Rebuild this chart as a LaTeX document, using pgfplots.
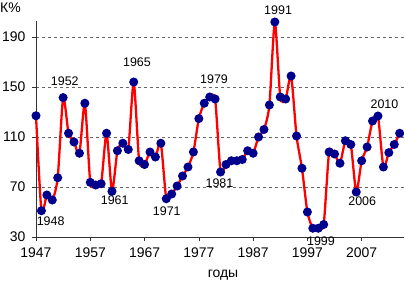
\documentclass[border=0pt]{standalone}
\usepackage{fontspec}
\setmainfont{Liberation Sans}
\usepackage{pgfplots}
\pgfplotsset{compat=1.18}
\definecolor{navy}{RGB}{0,0,140}
\begin{document}
\begin{tikzpicture}
\useasboundingbox (-36bp,-44bp) rectangle (368bp,237bp);
\begin{axis}[
  at={(0,0)}, anchor=south west,
  scale only axis, width=368bp, height=216bp,
  xmin=1947, xmax=2014.8, ymin=30, ymax=202.8,
  axis lines*=left, axis line style={-, black!80, line width=0.6bp},
  xtick={1947,1957,...,2007}, ytick={30,70,...,190},
  ymajorgrids, grid style={dashed, black!60, line width=0.5bp},
  tick align=outside, major tick length=4bp,
  tick style={black!80, line width=0.6bp},
  /pgf/number format/set thousands separator={},
  /pgf/number format/assume math mode=true,
  tick label style={font=\fontsize{14}{16}\selectfont},
  xticklabel style={yshift=-3bp},
  yticklabel style={xshift=-3bp},
  clip=false,
]
\addplot[red, line width=2.3bp, smooth, tension=0.4, mark=*, mark size=3.3bp,
  mark options={fill=navy, draw=navy, solid}] coordinates {
(1947,127) (1948,51) (1949,63.6) (1950,59.6) (1951,77.4) (1952,141.5)
(1953,113) (1954,106) (1955,97) (1956,137) (1957,73.7) (1958,71.6)
(1959,72.6) (1960,113) (1961,66.5) (1962,99) (1963,105) (1964,100)
(1965,154) (1966,91) (1967,88) (1968,98) (1969,94) (1970,105)
(1971,60.6) (1972,64.4) (1973,70.8) (1974,78.8) (1975,86) (1976,98)
(1977,124.7) (1978,137) (1979,142) (1980,140.4) (1981,82) (1982,88)
(1983,91) (1984,91) (1985,92) (1986,99) (1987,97) (1988,110)
(1989,116) (1990,135.6) (1991,202) (1992,142) (1993,140.4) (1994,158.8)
(1995,110.8) (1996,85) (1997,50) (1998,37) (1999,37) (2000,40)
(2001,98) (2002,96.4) (2003,89) (2004,107) (2005,104) (2006,66)
(2007,91) (2008,102) (2009,122.8) (2010,126.8) (2011,86) (2012,97.5)
(2013,104) (2014,113)
};
\begin{scope}[every node/.style={font=\fontsize{12.5}{14}\selectfont, inner sep=0pt}]
\node at (axis cs:1949.7,42.8) {1948};
\node at (axis cs:1952.3,154.8) {1952};
\node at (axis cs:1961.5,59.6) {1961};
\node at (axis cs:1965.6,170) {1965};
\node at (axis cs:1971.1,51) {1971};
\node at (axis cs:1979.8,156.4) {1979};
\node at (axis cs:1980.8,73) {1981};
\node at (axis cs:1991.6,211.6) {1991};
\node at (axis cs:1999.5,27) {1999};
\node at (axis cs:2007.1,59) {2006};
\node at (axis cs:2011.2,136.4) {2010};
\end{scope}
\end{axis}
\node[anchor=west, inner sep=0pt, font=\fontsize{14}{16}\selectfont] at (-36bp,229bp) {К\%};
\node[anchor=base, inner sep=0pt, font=\fontsize{14}{16}\selectfont] at (187bp,-40bp) {годы};
\end{tikzpicture}
\end{document}
